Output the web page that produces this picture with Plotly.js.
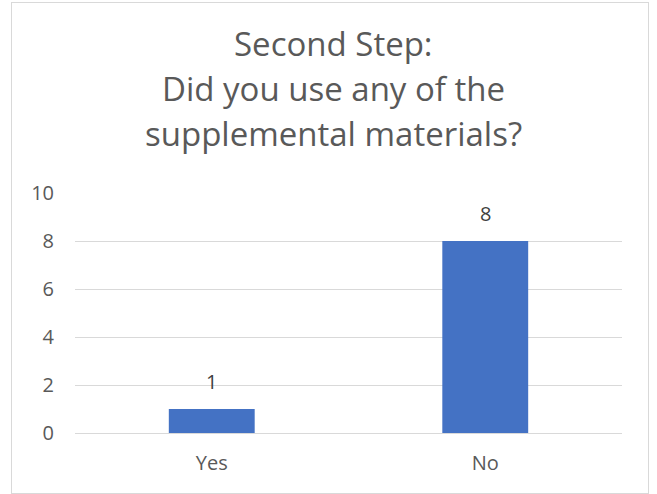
<!DOCTYPE html>
<html>
<head>
<meta charset="utf-8">
<script src="https://cdn.plot.ly/plotly-3.0.1.min.js"></script>
<style>
  body { margin: 0; background: #fff; }
  #wrap { position: relative; width: 657px; height: 494px; }
  #chart { position: absolute; left: 0; top: 0; width: 657px; height: 494px; }
  #frame { position: absolute; left: 11px; top: 2px; width: 636px; height: 490px;
           border: 1px solid #d9d9d9; pointer-events: none; }
</style>
</head>
<body>
<div id="wrap">
  <div id="chart"></div>
  <div id="frame"></div>
</div>
<script>
// chart values
const answers = ['Yes', 'No'];
const counts = [1, 8];
const yTicks = [0, 2, 4, 6, 8, 10];
const titleLines = ['Second Step:', 'Did you use any of the', 'supplemental materials?'];

const textColor = '#595959';
const font = '"Open Sans", "Liberation Sans", sans-serif';

const bars = {
    x: answers,
    y: counts,
    type: 'bar',
    marker: { color: '#4472C4' },
    hoverinfo: 'x+y'
};

// title drawn as three annotations so the line spacing matches
const titleY = [1.625, 1.437, 1.25];
const annotations = titleLines.map((t, i) => ({
    text: t,
    xref: 'paper', yref: 'paper',
    x: 0.472, y: titleY[i],
    xanchor: 'center', yanchor: 'middle',
    showarrow: false,
    font: { size: 33, color: textColor, family: font }
}));

// value labels above the bars
answers.forEach((a, i) => {
    annotations.push({
        text: String(counts[i]),
        x: a, y: counts[i],
        xref: 'x', yref: 'y',
        xanchor: 'center', yanchor: 'bottom',
        yshift: 12,
        showarrow: false,
        font: { size: 20, color: '#404040', family: font }
    });
});

const layout = {
    width: 657,
    height: 494,
    margin: { l: 75, r: 35, t: 193, b: 61 },
    paper_bgcolor: 'rgba(0,0,0,0)',
    plot_bgcolor: 'rgba(0,0,0,0)',
    showlegend: false,
    bargap: 0.686,
    font: { family: font, color: textColor, size: 20 },
    xaxis: {
        showgrid: false,
        showline: true,
        linecolor: '#d9d9d9',
        linewidth: 1,
        ticks: '',
        ticklabelstandoff: 12,
        tickfont: { size: 20, color: textColor }
    },
    yaxis: {
        range: [0, 10],
        tickvals: yTicks,
        showgrid: true,
        gridcolor: '#d9d9d9',
        gridwidth: 1,
        zeroline: false,
        showline: false,
        ticks: '',
        ticklabelstandoff: 20,
        tickfont: { size: 20, color: textColor }
    },
    annotations: annotations
};

Plotly.newPlot('chart', [bars], layout, { displayModeBar: false, responsive: false });
</script>
</body>
</html>
